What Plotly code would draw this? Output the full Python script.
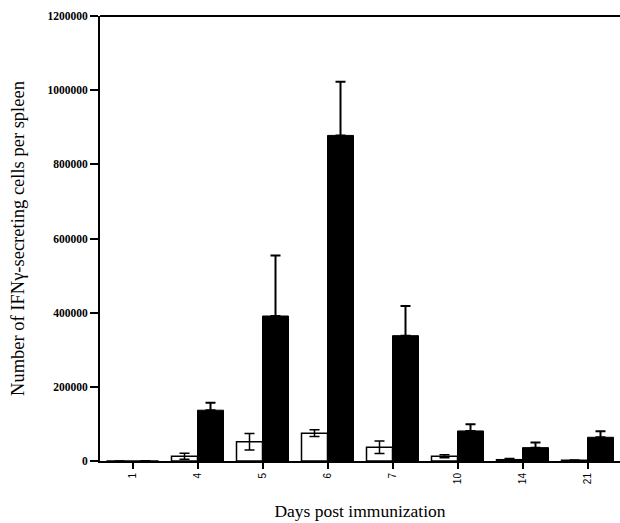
import plotly.graph_objects as go

days = ["1", "4", "5", "6", "7", "10", "14", "21"]
white_vals = [0, 13000, 52000, 75000, 37000, 12700, 3500, 2000]
white_err = [0, 8000, 22000, 9000, 17000, 4000, 3000, 1000]
black_vals = [0, 137000, 391000, 878000, 338000, 81000, 36000, 64000]
black_err = [0, 20000, 163000, 145000, 80000, 18000, 14000, 16000]
y_ticks = [0, 200000, 400000, 600000, 800000, 1000000, 1200000]

fig = go.Figure()
fig.add_trace(go.Bar(
    x=days, y=white_vals, name="white",
    marker=dict(color="white", line=dict(color="black", width=1.5)),
    error_y=dict(type="data", array=white_err, color="black", thickness=1.5, width=5),
))
fig.add_trace(go.Bar(
    x=days, y=black_vals, name="black",
    marker=dict(color="black", line=dict(color="black", width=1)),
    error_y=dict(type="data", array=black_err, arrayminus=[0]*len(black_err),
                 symmetric=False, color="black", thickness=2, width=5),
))

fig.update_layout(
    width=620, height=523,
    margin=dict(l=100, r=0, t=16, b=62),
    paper_bgcolor="white", plot_bgcolor="white",
    showlegend=False,
    barmode="group", bargap=0.2, bargroupgap=0,
    font=dict(family="Liberation Serif", color="black"),
    shapes=[dict(type="line", xref="paper", yref="paper", x0=0, x1=1, y0=1, y1=1,
                 line=dict(color="black", width=2))],
)
fig.update_xaxes(
    type="category",
    range=[-0.5, 7.5],
    automargin=False,
    showline=True, linecolor="black", linewidth=2,
    ticks="outside", ticklen=6, tickwidth=1.5, tickcolor="black",
    tickangle=-90,
    tickfont=dict(family="Liberation Sans", size=10),
    showgrid=False,
    title=dict(text="Days post immunization", font=dict(size=17.5), standoff=22),
)
fig.update_yaxes(
    range=[0, 1200000],
    automargin=False,
    tickvals=y_ticks, ticktext=[str(v) for v in y_ticks],
    showline=True, linecolor="black", linewidth=2,
    ticks="outside", ticklen=8, tickwidth=1.5, tickcolor="black",
    tickfont=dict(family="Liberation Serif", size=11.5, weight="bold"),
    showgrid=False, zeroline=False,
    title=dict(text="Number of IFNγ-secreting cells per spleen", font=dict(size=18.5), standoff=18),
)

fig.write_html(
    "out.html",
    config={"displayModeBar": False},
    post_script="document.body.style.margin='0px';document.body.style.overflow='hidden';",
)
